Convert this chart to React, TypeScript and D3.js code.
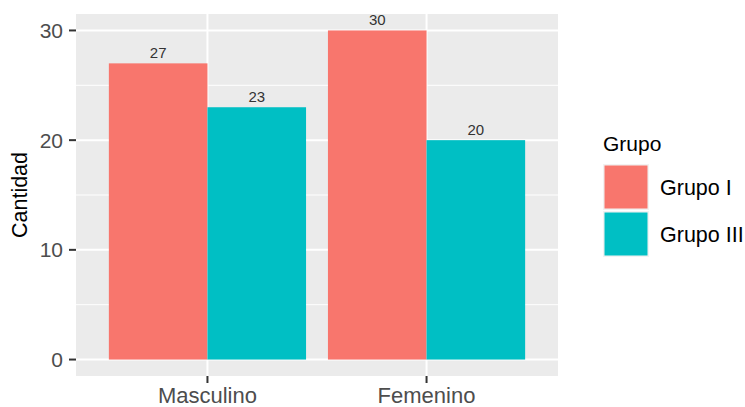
import React from "react";
import * as d3 from "d3";

const categories = ["Masculino", "Femenino"];
const groups = ["Grupo I", "Grupo III"];
const grupoI = [27, 30];
const grupoIII = [23, 20];
const yTicks = [0, 10, 20, 30];
const yMinor = [5, 15, 25];
const colors = ["#F8766D", "#00BFC4"];

const W = 745;
const H = 407;
const panel = { left: 76, right: 558, top: 14, bottom: 376 };
const FONT = "'Liberation Sans', Arial, Helvetica, sans-serif";

export default function App() {
  const series = [grupoI, grupoIII];
  const x = d3
    .scaleLinear()
    .domain([0.4, categories.length + 0.6])
    .range([panel.left, panel.right]);
  const y = d3.scaleLinear().domain([-1.5, 31.5]).range([panel.bottom, panel.top]);
  const barW = 0.9;
  const sub = barW / groups.length;

  return (
    <svg
      width={W}
      height={H}
      style={{ position: "absolute", left: 0, top: 0, background: "#fff" }}
      fontFamily={FONT}
    >
      <rect x={panel.left} y={panel.top} width={panel.right - panel.left} height={panel.bottom - panel.top} fill="#EBEBEB" />
      {yMinor.map((t) => (
        <line key={"mi" + t} x1={panel.left} x2={panel.right} y1={y(t)} y2={y(t)} stroke="#fff" strokeWidth={1} />
      ))}
      {yTicks.map((t) => (
        <line key={"ma" + t} x1={panel.left} x2={panel.right} y1={y(t)} y2={y(t)} stroke="#fff" strokeWidth={2} />
      ))}
      {categories.map((c, i) => (
        <line key={"vx" + c} x1={x(i + 1)} x2={x(i + 1)} y1={panel.top} y2={panel.bottom} stroke="#fff" strokeWidth={2} />
      ))}
      {categories.map((c, i) =>
        series.map((s, g) => {
          const x0 = x(i + 1 - barW / 2 + g * sub);
          const x1 = x(i + 1 - barW / 2 + (g + 1) * sub);
          return (
            <rect key={c + g} x={x0} y={y(s[i])} width={x1 - x0} height={y(0) - y(s[i])} fill={colors[g]} />
          );
        })
      )}
      {categories.map((c, i) =>
        series.map((s, g) => {
          const cx = x(i + 1 - barW / 2 + (g + 0.5) * sub);
          return (
            <text key={"lb" + c + g} x={cx} y={y(s[i]) - 5} textAnchor="middle" fontSize={15} fill="#333">
              {s[i]}
            </text>
          );
        })
      )}
      {yTicks.map((t) => (
        <g key={"yt" + t}>
          <line x1={panel.left - 7} x2={panel.left} y1={y(t)} y2={y(t)} stroke="#333" strokeWidth={2} />
          <text x={panel.left - 13} y={y(t)} dy="0.35em" textAnchor="end" fontSize={21} fill="#4D4D4D">
            {t}
          </text>
        </g>
      ))}
      {categories.map((c, i) => (
        <g key={"xt" + c}>
          <line x1={x(i + 1)} x2={x(i + 1)} y1={panel.bottom} y2={panel.bottom + 7} stroke="#333" strokeWidth={2} />
          <text x={x(i + 1)} y={panel.bottom + 27} textAnchor="middle" fontSize={22} fill="#4D4D4D">
            {c}
          </text>
        </g>
      ))}
      <text
        transform={`translate(27, ${(panel.top + panel.bottom) / 2}) rotate(-90)`}
        textAnchor="middle"
        fontSize={21.5}
        fill="#000"
      >
        Cantidad
      </text>
      <text x={603} y={151} fontSize={21} fill="#000">
        Grupo
      </text>
      {groups.map((g, i) => (
        <g key={"lg" + g}>
          <rect x={603} y={164 + i * 47} width={46} height={46} fill="#F2F2F2" />
          <rect x={604.5} y={165.5 + i * 47} width={43} height={43} fill={colors[i]} />
          <text x={660} y={187 + i * 47} dy="0.35em" fontSize={21.5} fill="#000">
            {g}
          </text>
        </g>
      ))}
    </svg>
  );
}
